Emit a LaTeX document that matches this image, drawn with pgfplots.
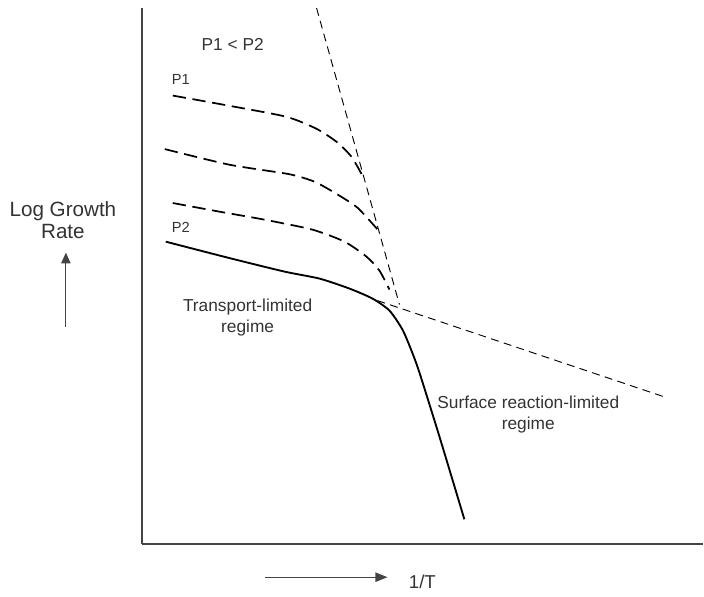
\documentclass[border=0pt]{standalone}
\usepackage{pgfplots}
\pgfplotsset{compat=1.18}
\usepackage{fontspec}
\setmainfont{Liberation Sans}
\usetikzlibrary{arrows.meta}
\definecolor{txt}{HTML}{333333}
\definecolor{axl}{HTML}{444444}
\begin{document}
\begin{tikzpicture}
\begin{axis}[
    scale only axis,
    width=421.5pt, height=402.75pt,
    xmin=142, xmax=704, ymin=52, ymax=589,
    axis x line=bottom, axis y line=left,
    axis line style={-, axl, line width=1.5pt},
    xtick=\empty, ytick=\empty,
    clip=false,
]
% invisible frame = full picture size (px units)
\path (axis cs:0,0) rectangle (axis cs:704,597);

% P2, solid
\addplot[black, line width=1.4pt, smooth, tension=0.4] coordinates {
 (166,355) (230,338.5) (285,325) (320,318) (350,308) (373,298) (390,286)
 (403,267) (412,246) (420,224) (440,160) (465,77)
};
% P1 (top)
\addplot[black, line width=1.3pt, dash pattern=on 10pt off 5pt, smooth, tension=0.4] coordinates {
 (173,501.3) (230,491) (287,480) (317,468) (337,455) (352,440) (363,421)
};
% middle
\addplot[black, line width=1.3pt, dash pattern=on 10pt off 5pt, smooth, tension=0.4] coordinates {
 (165,447.7) (230,432) (290,422.5) (315,415) (335,404) (358,389) (380,365)
};
% lower
\addplot[black, line width=1.3pt, dash pattern=on 10pt off 5pt, smooth, tension=0.4] coordinates {
 (173,393.7) (220,385) (265,377) (313,367) (345,355) (367,340) (380,326) (390,307)
};
% asymptotes
\addplot[black, line width=0.7pt, dash pattern=on 6pt off 4pt] coordinates {(317,589) (400,292)};
\addplot[black, line width=0.7pt, dash pattern=on 6pt off 4pt] coordinates {(378,296) (667,199)};

\node[txt, font=\fontsize{13}{15}\selectfont] at (axis cs:233,552) {P1 < P2};
\node[txt, font=\fontsize{11}{13}\selectfont] at (axis cs:181,517) {P1};
\node[txt, font=\fontsize{11}{13}\selectfont] at (axis cs:181,369) {P2};
\node[txt, align=center, font=\fontsize{13}{15.5}\selectfont] at (axis cs:248,279) {Transport-limited\\regime};
\node[txt, align=center, font=\fontsize{13}{15.5}\selectfont] at (axis cs:529,182) {Surface reaction-limited\\regime};
\node[txt, align=center, font=\fontsize{15.5}{16.5}\selectfont] at (axis cs:63,377) {Log Growth\\Rate};
\node[txt, font=\fontsize{14}{16}\selectfont] at (axis cs:423,14) {1/T};
\draw[axl, line width=0.8pt, -{Triangle[length=8pt,width=7pt]}] (axis cs:66,270) -- (axis cs:66,344);
\draw[axl, line width=0.8pt, -{Triangle[length=9pt,width=7pt]}] (axis cs:265,19) -- (axis cs:388,19);
\end{axis}
\end{tikzpicture}
\end{document}
